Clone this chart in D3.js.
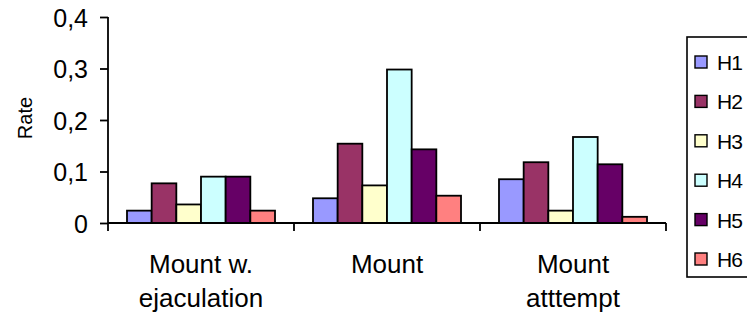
<!DOCTYPE html>
<html>
<head>
<meta charset="utf-8">
<script src="https://cdn.jsdelivr.net/npm/d3@7"></script>
<style>
  body { margin: 0; background: #fff; }
  svg text { font-family: "Liberation Sans", Arial, sans-serif; fill: #000; }
</style>
</head>
<body>
<div id="chart"></div>
<script>
// data
var categories = [["Mount w.", "ejaculation"], ["Mount"], ["Mount", "atttempt"]];
var seriesNames = ["H1", "H2", "H3", "H4", "H5", "H6"];
var H1 = [0.024, 0.048, 0.085];
var H2 = [0.077, 0.154, 0.118];
var H3 = [0.036, 0.073, 0.024];
var H4 = [0.090, 0.298, 0.167];
var H5 = [0.090, 0.143, 0.114];
var H6 = [0.024, 0.053, 0.012];
var yTicks = [0, 0.1, 0.2, 0.3, 0.4];
var colors = ["#9999ff", "#993366", "#ffffcc", "#ccffff", "#660066", "#ff8080"];

var series = [H1, H2, H3, H4, H5, H6];

var width = 747, height = 320;
var svg = d3.select("#chart").append("svg")
    .attr("width", width)
    .attr("height", height);

var x0 = d3.scaleBand()
    .domain(d3.range(categories.length))
    .range([108, 666]);

var x1 = d3.scaleBand()
    .domain(seriesNames)
    .range([0, x0.bandwidth()])
    .paddingOuter(0.77);

var y = d3.scaleLinear()
    .domain([0, 0.4])
    .range([223, 17]);

// bars
var groups = svg.selectAll(".grp")
    .data(categories)
    .enter().append("g")
    .attr("class", "grp")
    .attr("transform", function(d, i) { return "translate(" + x0(i) + ",0)"; });

groups.selectAll("rect")
    .data(function(d, i) {
        return seriesNames.map(function(s, j) { return { name: s, value: series[j][i], color: colors[j] }; });
    })
    .enter().append("rect")
    .attr("x", function(d) { return x1(d.name); })
    .attr("y", function(d) { return y(d.value); })
    .attr("width", x1.bandwidth())
    .attr("height", function(d) { return y(0) - y(d.value); })
    .style("fill", function(d) { return d.color; })
    .style("stroke", "#000")
    .style("stroke-width", 1.8);

// y axis
var yAxis = svg.append("g")
    .attr("transform", "translate(108,0)")
    .call(d3.axisLeft(y).tickValues(yTicks).tickSize(8).tickPadding(12)
        .tickFormat(function(d) { return d === 0 ? "0" : d3.format(".1f")(d).replace(".", ","); }));
yAxis.select(".domain").attr("d", "M0," + y(0.4) + "V" + y(0)).style("stroke", "#000").style("stroke-width", 1.8);
yAxis.selectAll(".tick line").style("stroke", "#000").style("stroke-width", 1.8);
yAxis.selectAll("text").style("font-size", "25px").attr("dy", "0.36em");

// x axis with ticks between categories
var xAxis = svg.append("g").attr("transform", "translate(0," + y(0) + ")");
xAxis.append("line")
    .attr("x1", x0.range()[0]).attr("x2", x0.range()[1])
    .style("stroke", "#000").style("stroke-width", 1.8);
xAxis.selectAll(".ctick")
    .data(d3.range(categories.length + 1))
    .enter().append("line")
    .attr("x1", function(i) { return 108 + i * x0.step(); })
    .attr("x2", function(i) { return 108 + i * x0.step(); })
    .attr("y1", 0).attr("y2", 8)
    .style("stroke", "#000").style("stroke-width", 1.8);

var labels = xAxis.selectAll(".clabel")
    .data(categories)
    .enter().append("text")
    .attr("text-anchor", "middle")
    .style("font-size", "26px")
    .attr("transform", function(d, i) { return "translate(" + (x0(i) + x0.bandwidth() / 2) + ",50)"; });
labels.selectAll("tspan")
    .data(function(d) { return d; })
    .enter().append("tspan")
    .attr("x", 0)
    .attr("y", function(d, i) { return i * 34; })
    .text(function(d) { return d; });

// axis title
svg.append("text")
    .attr("transform", "translate(32,118) rotate(-90)")
    .attr("text-anchor", "middle")
    .style("font-size", "20px")
    .text("Rate");

// legend
var legend = svg.append("g").attr("transform", "translate(687,37)");
legend.append("rect")
    .attr("width", 80).attr("height", 240)
    .style("fill", "#fff").style("stroke", "#000").style("stroke-width", 1.6);
var items = legend.selectAll(".item")
    .data(seriesNames)
    .enter().append("g")
    .attr("transform", function(d, i) { return "translate(0," + (25 + i * 39.4) + ")"; });
items.append("rect")
    .attr("x", 8).attr("y", -6)
    .attr("width", 12).attr("height", 12)
    .style("fill", function(d, i) { return colors[i]; })
    .style("stroke", "#000").style("stroke-width", 1.4);
items.append("text")
    .attr("x", 30).attr("dy", "0.38em")
    .style("font-size", "21px")
    .style("letter-spacing", "-1px")
    .text(function(d) { return d; });
</script>
</body>
</html>
